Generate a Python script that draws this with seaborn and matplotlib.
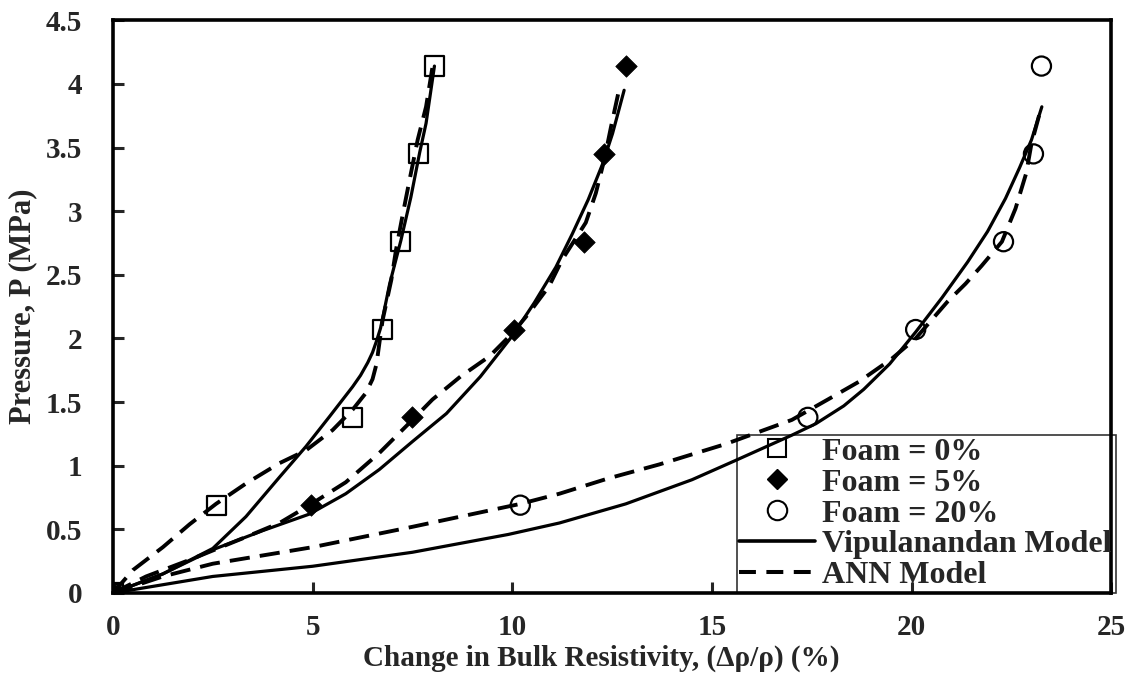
import matplotlib
matplotlib.use("Agg")
import matplotlib.pyplot as plt
import seaborn as sns
import pandas as pd
from matplotlib.lines import Line2D

# Measured data: change in bulk resistivity (%) vs. applied pressure (MPa)
pressure = [0, 0.69, 1.38, 2.07, 2.76, 3.45, 4.14]
resist_foam0 = [0, 2.6, 6.0, 6.75, 7.2, 7.65, 8.05]
resist_foam5 = [0, 4.95, 7.5, 10.05, 11.8, 12.3, 12.85]
resist_foam20 = [0, 10.2, 17.4, 20.1, 22.3, 23.05, 23.25]

# Vipulanandan model predictions
vip0_x = [0, 1.25, 2.5, 3.33, 4.17, 4.83, 5.42, 6.0, 6.2, 6.38, 6.5, 6.6, 6.7, 6.93, 7.21, 7.46, 7.68, 7.84, 8.05]
vip0_y = [0, 0.15, 0.35, 0.60, 0.91, 1.15, 1.385, 1.62, 1.71, 1.81, 1.89, 1.98, 2.08, 2.43, 2.77, 3.11, 3.46, 3.69, 4.14]
vip5_x = [0, 1.25, 2.5, 3.75, 4.92, 5.83, 6.67, 7.5, 8.35, 9.2, 10.0, 10.55, 11.09, 11.5, 11.9, 12.26, 12.51, 12.8]
vip5_y = [0, 0.15, 0.34, 0.49, 0.62, 0.78, 0.97, 1.19, 1.41, 1.70, 2.02, 2.28, 2.56, 2.82, 3.09, 3.37, 3.61, 3.95]
vip20_x = [0, 2.5, 5.0, 7.5, 9.9, 11.18, 12.84, 14.5, 15.58, 17.0, 17.6, 18.3, 18.8, 19.45, 20.1, 20.76, 21.4, 21.9, 22.35, 22.7, 23.0, 23.26]
vip20_y = [0, 0.13, 0.21, 0.32, 0.46, 0.55, 0.70, 0.89, 1.04, 1.24, 1.33, 1.47, 1.60, 1.80, 2.05, 2.32, 2.60, 2.84, 3.10, 3.34, 3.56, 3.82]

# ANN model predictions
ann0_x = [0, 0.5, 1.25, 1.92, 2.58, 3.33, 4.17, 4.83, 5.5, 6.0, 6.33, 6.5, 6.6, 6.67, 6.75, 6.97, 7.09, 7.26, 7.43, 7.63, 7.84, 8.0]
ann0_y = [0, 0.18, 0.36, 0.54, 0.70, 0.86, 1.02, 1.12, 1.28, 1.44, 1.57, 1.68, 1.80, 1.96, 2.14, 2.46, 2.70, 2.98, 3.25, 3.56, 3.82, 4.13]
ann5_x = [0, 0.83, 1.92, 3.33, 4.17, 4.92, 5.83, 6.67, 7.5, 8.0, 8.7, 9.43, 10.0, 10.42, 10.92, 11.25, 11.84, 12.09, 12.3, 12.47, 12.67]
ann5_y = [0, 0.13, 0.26, 0.44, 0.55, 0.69, 0.87, 1.10, 1.36, 1.52, 1.70, 1.86, 2.04, 2.20, 2.41, 2.62, 2.91, 3.14, 3.40, 3.66, 3.95]
ann20_x = [0, 1.25, 2.5, 5.0, 7.5, 10.2, 11.18, 12.4, 13.68, 15.34, 17.0, 17.9, 18.68, 19.5, 20.1, 20.43, 20.9, 21.35, 21.75, 22.26, 22.6, 22.87, 23.0, 23.25]
ann20_y = [0, 0.13, 0.23, 0.36, 0.52, 0.70, 0.78, 0.90, 1.01, 1.17, 1.36, 1.52, 1.66, 1.84, 2.00, 2.12, 2.29, 2.43, 2.57, 2.76, 3.02, 3.30, 3.53, 3.82]

x_ticks = [0, 5, 10, 15, 20, 25]
y_ticks = [0, 0.5, 1, 1.5, 2, 2.5, 3, 3.5, 4, 4.5]
y_tick_labels = ["0", "0.5", "1", "1.5", "2", "2.5", "3", "3.5", "4", "4.5"]

sns.set_style("ticks")
plt.rcParams["font.family"] = ["Liberation Serif", "DejaVu Serif"]
plt.rcParams["font.weight"] = "bold"

fig = plt.figure(figsize=(11.41, 6.75), dpi=100)
ax = fig.add_axes([0.099, 0.1215, 0.875, 0.8485])

dash = (0, (5.2, 2.6))
for xs, ys in [(vip0_x, vip0_y), (vip5_x, vip5_y), (vip20_x, vip20_y)]:
    sns.lineplot(x=xs, y=ys, ax=ax, sort=False, estimator=None,
                 color="black", linewidth=2.3, zorder=2)
for xs, ys in [(ann0_x, ann0_y), (ann5_x, ann5_y), (ann20_x, ann20_y)]:
    sns.lineplot(x=xs, y=ys, ax=ax, sort=False, estimator=None,
                 color="black", linewidth=2.8, linestyle=dash, zorder=2)

df0 = pd.DataFrame({"r": resist_foam0, "p": pressure})
df5 = pd.DataFrame({"r": resist_foam5, "p": pressure})
df20 = pd.DataFrame({"r": resist_foam20, "p": pressure})
sns.scatterplot(data=df0, x="r", y="p", ax=ax, marker="s", s=190,
                facecolors="none", edgecolor="black", linewidth=1.6, zorder=3)
sns.scatterplot(data=df5, x="r", y="p", ax=ax, marker="D", s=120,
                color="black", edgecolor="black", linewidth=0.5, zorder=3)
sns.scatterplot(data=df20, x="r", y="p", ax=ax, marker="o", s=190,
                facecolors="none", edgecolor="black", linewidth=1.6, zorder=3)

ax.set_xlim(0, 25)
ax.set_ylim(0, 4.5)
ax.set_xticks(x_ticks)
ax.set_xticklabels([str(t) for t in x_ticks])
ax.set_yticks(y_ticks)
ax.set_yticklabels(y_tick_labels)
ax.tick_params(axis="both", direction="in", length=8, width=2.2,
               labelsize=21)
ax.tick_params(axis="y", pad=22)
ax.tick_params(axis="x", pad=15)
for lab in ax.get_xticklabels() + ax.get_yticklabels():
    lab.set_fontweight("bold")
for sp in ax.spines.values():
    sp.set_linewidth(2.6)
    sp.set_color("black")
    sp.set_visible(True)

ax.set_xlabel("Change in Bulk Resistivity, (\u0394\u03c1/\u03c1) (%)",
              fontsize=21, fontweight="bold")
ax.xaxis.set_label_coords(0.489, -0.09)
ax.set_ylabel("Pressure, P (MPa)", fontsize=22, fontweight="bold", labelpad=6)

handles = [
    Line2D([], [], linestyle="none", marker="s", markersize=13,
           markerfacecolor="none", markeredgecolor="black", markeredgewidth=1.5),
    Line2D([], [], linestyle="none", marker="D", markersize=10.5,
           markerfacecolor="black", markeredgecolor="black"),
    Line2D([], [], linestyle="none", marker="o", markersize=14,
           markerfacecolor="none", markeredgecolor="black", markeredgewidth=1.5),
    Line2D([], [], color="black", linewidth=2.6),
    Line2D([], [], color="black", linewidth=2.9, linestyle=(0, (4.2, 2.6))),
]
labels = ["Foam = 0%", "Foam = 5%", "Foam = 20%", "Vipulanandan Model", "ANN Model"]
leg = ax.legend(handles, labels, loc="lower left",
                bbox_to_anchor=(0.625, 0.0, 0.38, 0.279), mode="expand",
                prop={"family": "Liberation Serif", "weight": "bold", "size": 23},
                frameon=True, fancybox=False, facecolor="none", edgecolor="black",
                handlelength=2.35, handletextpad=0.22, labelspacing=0.05,
                borderpad=0.08, borderaxespad=0)
leg.get_frame().set_linewidth(1.2)

fig.savefig("out.png", dpi=100)
